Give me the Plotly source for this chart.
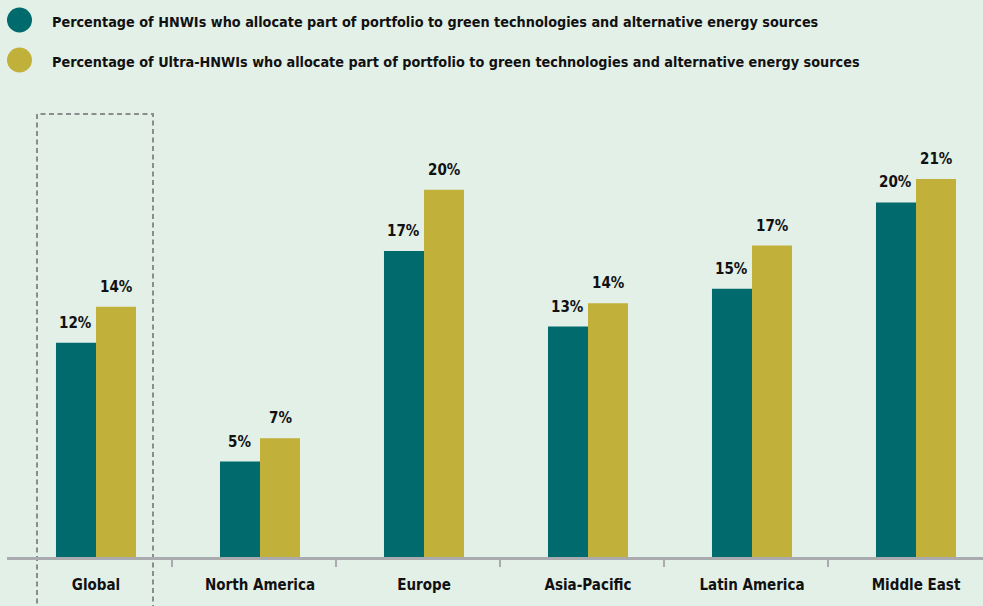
import plotly.graph_objects as go

regions = ["Global", "North America", "Europe", "Asia-Pacific", "Latin America", "Middle East"]
hnwi = [11.9, 5.3, 17.0, 12.8, 14.9, 19.7]
ultra = [13.9, 6.6, 20.4, 14.1, 17.3, 21.0]
hnwi_labels = ["12%", "5%", "17%", "13%", "15%", "20%"]
ultra_labels = ["14%", "7%", "20%", "14%", "17%", "21%"]
legend_names = [
    "Percentage of HNWIs who allocate part of portfolio to green technologies and alternative energy sources",
    "Percentage of Ultra-HNWIs who allocate part of portfolio to green technologies and alternative energy sources",
]

TEAL = "#006a6c"
GOLD = "#c1b03a"
BG = "#e3f0e8"
FONT = "DejaVu Sans Condensed, Liberation Sans Narrow, sans-serif"

xs = list(range(len(regions)))
fig = go.Figure()
fig.add_trace(go.Bar(x=xs, y=hnwi, name=legend_names[0], marker_color=TEAL,
                     marker_line_width=0, showlegend=False, hoverinfo="skip"))
fig.add_trace(go.Bar(x=xs, y=ultra, name=legend_names[1], marker_color=GOLD,
                     marker_line_width=0, showlegend=False, hoverinfo="skip"))

# value labels above bars
annotations = []
for i in xs:
    for off, val, lab in ((-0.122, hnwi[i], hnwi_labels[i]), (0.122, ultra[i], ultra_labels[i])):
        annotations.append(dict(x=i + off, y=val, text=lab, showarrow=False,
                                yanchor="bottom", yshift=9,
                                font=dict(family=FONT, size=15, color="#111", weight="bold")))

# legend drawn by hand (circle markers + text)
shapes = []
for k, (name, col) in enumerate(zip(legend_names, [TEAL, GOLD])):
    cy = 20 + 40 * k
    shapes.append(dict(type="circle", xref="paper", yref="paper",
                       x0=(7 - 7) / 976, x1=(32 - 7) / 976,
                       y0=(557 - (cy + 12.5)) / 450, y1=(557 - (cy - 12.5)) / 450,
                       fillcolor=col, line=dict(width=0)))
    annotations.append(dict(xref="paper", yref="paper", x=(50 - 7) / 976, y=(557 - (cy + 2)) / 450,
                            text=name, showarrow=False, xanchor="left", yanchor="middle",
                            font=dict(family=FONT, size=14.3, color="#111", weight="bold")))

# dashed box around Global
shapes.append(dict(type="rect", xref="paper", yref="paper",
                   x0=(37 - 7) / 976, x1=(153 - 7) / 976,
                   y0=-0.2, y1=(557 - 114) / 450,
                   line=dict(color="#8a8c8e", width=2, dash="5px,3.5px"), layer="below"))

fig.update_layout(
    width=983, height=606,
    margin=dict(l=7, r=0, t=107, b=49),
    paper_bgcolor=BG, plot_bgcolor=BG,
    barmode="group", bargap=0.512, bargroupgap=0,
    annotations=annotations, shapes=shapes,
    showlegend=False,
)
fig.update_xaxes(
    range=[-89 / 164, 887 / 164],
    tickvals=xs, ticktext=regions, ticks="",
    tickfont=dict(family=FONT, size=15, color="#111", weight="bold"),
    showline=True, linecolor="#a9abae", linewidth=3,
    showgrid=False, zeroline=False,
    minor=dict(tickvals=[i + 0.463 for i in range(5)], ticks="outside",
               ticklen=7, tickwidth=2, tickcolor="#a9abae", showgrid=False),
    ticklabelstandoff=12,
)
fig.update_yaxes(range=[0, 25], visible=False, showgrid=False, zeroline=False)

fig.write_html("out.html", config={"displayModeBar": False},
               post_script="document.body.style.margin='0';")
